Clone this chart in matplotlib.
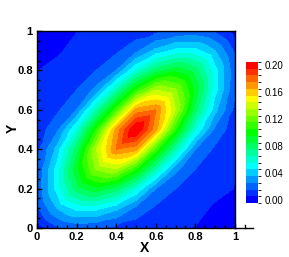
import numpy as np
import matplotlib
matplotlib.use("Agg")
import matplotlib.pyplot as plt
import matplotlib.tri as mtri
from matplotlib.colors import LinearSegmentedColormap, ListedColormap, BoundaryNorm
from matplotlib.cm import ScalarMappable

plt.rcParams['font.family'] = ['Liberation Sans', 'DejaVu Sans']

# grid nodes (0.1 spacing)
x_nodes = [0.0, 0.1, 0.2, 0.3, 0.4, 0.5, 0.6, 0.7, 0.8, 0.9, 1.0]
y_nodes = [0.0, 0.1, 0.2, 0.3, 0.4, 0.5, 0.6, 0.7, 0.8, 0.9, 1.0]

# rows = y (bottom to top), cols = x (left to right)
field = [
    [0.000, 0.013, 0.018, 0.016, 0.012, 0.009, 0.0065, 0.0055, 0.0048, 0.002, 0.000],
    [0.013, 0.035, 0.048, 0.048, 0.038, 0.022, 0.013, 0.009, 0.007, 0.004, 0.002],
    [0.018, 0.048, 0.080, 0.092, 0.080, 0.055, 0.025, 0.015, 0.010, 0.007, 0.0048],
    [0.016, 0.048, 0.092, 0.127, 0.135, 0.105, 0.065, 0.028, 0.015, 0.009, 0.0055],
    [0.012, 0.038, 0.080, 0.135, 0.175, 0.168, 0.110, 0.065, 0.025, 0.013, 0.0065],
    [0.009, 0.022, 0.055, 0.105, 0.168, 0.208, 0.168, 0.105, 0.055, 0.022, 0.009],
    [0.0065, 0.013, 0.025, 0.065, 0.110, 0.168, 0.175, 0.135, 0.080, 0.038, 0.012],
    [0.0055, 0.009, 0.015, 0.028, 0.065, 0.105, 0.135, 0.127, 0.092, 0.048, 0.016],
    [0.0048, 0.007, 0.010, 0.015, 0.025, 0.055, 0.080, 0.092, 0.080, 0.048, 0.018],
    [0.002, 0.004, 0.007, 0.009, 0.013, 0.022, 0.038, 0.048, 0.048, 0.035, 0.013],
    [0.000, 0.002, 0.0048, 0.0055, 0.0065, 0.009, 0.012, 0.016, 0.018, 0.013, 0.000],
]

levels = [-0.005 + 0.01 * i for i in range(22)]
cbar_ticks = [0.00, 0.04, 0.08, 0.12, 0.16, 0.20]
tick_vals = [0, 0.2, 0.4, 0.6, 0.8, 1]

# tecplot-like small rainbow, one colour per level
rainbow = LinearSegmentedColormap.from_list(
    'small_rainbow', ['#0000ff', '#00ffff', '#00ff00', '#ffff00', '#ff0000'])
band_colors = [rainbow(i / 20) for i in range(21)]
cmap = ListedColormap(band_colors)

W, H = 289, 257
fig = plt.figure(figsize=(W / 100, H / 100), dpi=100)
ax = fig.add_axes([37 / W, 1 - 228 / H, 198 / W, 197 / H])

# cells split along the main diagonal, like the FE mesh
nx, ny = len(x_nodes), len(y_nodes)
X, Y = np.meshgrid(x_nodes, y_nodes)
tris = []
for j in range(ny - 1):
    for i in range(nx - 1):
        a = j * nx + i
        b = a + 1
        c = a + nx
        d = c + 1
        tris.append([a, b, d])
        tris.append([a, d, c])
tri = mtri.Triangulation(X.ravel(), Y.ravel(), tris)
fill_levels = levels[:-1] + [0.215]
ax.tricontourf(tri, np.array(field).ravel(), levels=fill_levels, colors=band_colors)

ax.set_xlim(0, 1)
ax.set_ylim(0, 1)
ax.set_xticks(tick_vals)
ax.set_yticks(tick_vals)
ax.set_xticklabels(['%g' % v for v in tick_vals])
ax.set_yticklabels(['%g' % v for v in tick_vals])
ax.set_xticks(np.arange(0, 1.001, 0.05), minor=True)
ax.set_yticks(np.arange(0, 1.001, 0.05), minor=True)
ax.tick_params(which='both', direction='in', top=False, right=False,
               labelsize=8, pad=3, width=1)
ax.tick_params(which='major', length=3.5)
ax.tick_params(which='minor', length=2)
for lab in ax.get_xticklabels() + ax.get_yticklabels():
    lab.set_fontweight('bold')
for sp in ax.spines.values():
    sp.set_linewidth(1.0)

# tecplot draws the x axis line a bit past the frame
ax.plot([1, 1.09], [0, 0], color='black', lw=1.0, clip_on=False)
ax.plot([1.05, 1.05], [0, 0.015], color='black', lw=1.0, clip_on=False)

fig.text(145 / W, 1 - 248 / H, 'X', ha='center', va='center',
         fontsize=10, fontweight='bold')
fig.text(13 / W, 1 - 128 / H, 'Y', ha='center', va='center',
         fontsize=10, fontweight='bold', rotation=90)

cax = fig.add_axes([246 / W, 1 - 203 / H, 12 / W, 141 / H])
sm = ScalarMappable(norm=BoundaryNorm(levels, cmap.N), cmap=cmap)
cb = fig.colorbar(sm, cax=cax, ticks=cbar_ticks)
cb.outline.set_visible(False)
cb.ax.tick_params(length=0, labelsize=7, pad=5)
cb.ax.set_yticklabels(['%.2f' % v for v in cbar_ticks])

fig.savefig('out.png', dpi=100)
